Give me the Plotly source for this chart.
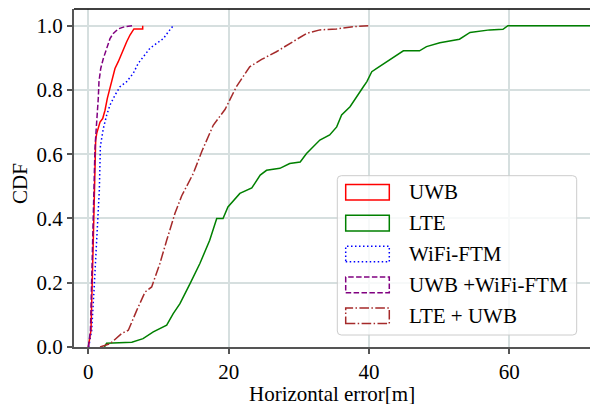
import plotly.graph_objects as go

# ---------------- data ----------------
uwb_x = [0, 0.38, 0.71, 0.95, 1.05, 1.2, 1.42, 1.67, 2.05, 2.38, 2.71, 3.09, 3.42, 3.8, 4.27, 4.84, 5.47, 5.94, 6.5, 7.75, 7.75]
uwb_y = [0, 0.052, 0.332, 0.6, 0.644, 0.665, 0.68, 0.70, 0.711, 0.737, 0.774, 0.81, 0.841, 0.867, 0.888, 0.919, 0.95, 0.971, 0.99, 0.99, 1.0]

lte_x = [2.3, 2.6, 6.2, 7.8, 9.26, 11.17, 12.1, 13.06, 14.5, 15.9, 17.3, 18.3, 19.2, 19.9, 21.6, 23.3, 24.5,
         25.4, 27.3, 28.7, 30.2, 31.1, 33.0, 34.4, 35.4, 36.1, 37.3, 38.2, 39.2, 39.7, 40.4, 41.1, 42.5,
         43.9, 44.9, 47.2, 48.2, 50.1, 51.0, 52.9, 54.4, 57.2, 59.1, 59.8, 80]
lte_y = [0, 0.012, 0.015, 0.026, 0.047, 0.068, 0.104, 0.135, 0.197, 0.26, 0.332, 0.4, 0.4, 0.436, 0.478, 0.495, 0.535,
         0.55, 0.556, 0.571, 0.576, 0.602, 0.644, 0.66, 0.685, 0.722, 0.748, 0.779, 0.81, 0.826, 0.857, 0.867, 0.888,
         0.909, 0.922, 0.922, 0.935, 0.947, 0.95, 0.958, 0.979, 0.987, 0.989, 1.0, 1.0]

wifi_x = [0.05, 0.48, 0.81, 1.2, 1.57, 1.72, 2.14, 2.62, 3.09, 3.8, 4.52, 5.47, 6.41, 7.12, 7.83, 8.79, 9.74, 10.7, 11.4, 12.1]
wifi_y = [0, 0.052, 0.176, 0.332, 0.488, 0.625, 0.68, 0.722, 0.753, 0.784, 0.81, 0.826, 0.852, 0.883, 0.903, 0.93, 0.945, 0.96, 0.981, 1.0]

uwbwifi_x = [0, 0.3, 0.62, 0.85, 0.95, 1.1, 1.28, 1.42, 1.52, 1.77, 2.14, 2.62, 3.09, 3.56, 4.27, 5.2, 6.4]
uwbwifi_y = [0, 0.05, 0.33, 0.56, 0.618, 0.67, 0.722, 0.774, 0.826, 0.867, 0.898, 0.93, 0.96, 0.976, 0.99, 0.997, 1.0]

lteuwb_x = [1.67, 3.09, 4.75, 5.7, 6.9, 8.08, 9.03, 10.2, 11.17, 12.35, 13.3, 14.96, 16.2, 17.8, 19.5, 21.1,
            23.0, 24.7, 26.8, 29.2, 31.1, 33.0, 35.4, 37.7, 39.9]
lteuwb_y = [0, 0.01, 0.042, 0.052, 0.114, 0.171, 0.187, 0.26, 0.332, 0.416, 0.47, 0.54, 0.61, 0.69, 0.74, 0.81,
            0.872, 0.895, 0.919, 0.95, 0.976, 0.987, 0.99, 0.997, 1.0]

series_names = ["UWB", "LTE", "WiFi-FTM", "UWB +WiFi-FTM", "LTE + UWB"]
series_colors = ["#ff0000", "#008000", "#0000ff", "#800080", "#a52a2a"]
series_dash = ["solid", "solid", "1.5px,2.5px", "5.5px,2.4px", "9.6px,2.4px,1.5px,2.4px"]
xs = [uwb_x, lte_x, wifi_x, uwbwifi_x, lteuwb_x]
ys = [uwb_y, lte_y, wifi_y, uwbwifi_y, lteuwb_y]

x_ticks = [0, 20, 40, 60]
y_ticks = [0.0, 0.2, 0.4, 0.6, 0.8, 1.0]
x_title = "Horizontal error[m]"
y_title = "CDF"

FONT = "'Liberation Serif', 'Times New Roman', Times, serif"
FS = 21

fig = go.Figure()
for i in [1, 4, 2, 0, 3]:
    fig.add_trace(go.Scatter(x=xs[i], y=ys[i], mode="lines", name=series_names[i],
                             line=dict(color=series_colors[i], width=1.5, dash=series_dash[i]),
                             showlegend=False, hoverinfo="skip"))

# ---- layout geometry ----
W, H = 590, 405
L, R, T, B = 74, 0, 9, 58
xr = [-2.04, 71.5]
yr = [0, 1.052]
pw, ph = W - L - R, H - T - B


def px2x(px):
    return xr[0] + (px - L) / pw * (xr[1] - xr[0])


def py2y(py):
    return yr[0] + (H - B - py) / ph * (yr[1] - yr[0])


shapes = []
annotations = []
# top spine
shapes.append(dict(type="line", xref="paper", yref="paper", x0=0, x1=1, y0=1, y1=1,
                   line=dict(color="black", width=1.5), layer="above"))

# legend box (rounded)
bx0, bx1, by0, by1, rad = 337.3, 576.7, 175.7, 335.0, 4
x0, x1 = px2x(bx0), px2x(bx1)
y0, y1 = py2y(by1), py2y(by0)
rx = rad / pw * (xr[1] - xr[0])
ry = rad / ph * (yr[1] - yr[0])
path = (f"M{x0+rx},{y0} L{x1-rx},{y0} Q{x1},{y0} {x1},{y0+ry} L{x1},{y1-ry} Q{x1},{y1} {x1-rx},{y1} "
        f"L{x0+rx},{y1} Q{x0},{y1} {x0},{y1-ry} L{x0},{y0+ry} Q{x0},{y0} {x0+rx},{y0} Z")
shapes.append(dict(type="path", xref="x", yref="y", path=path, fillcolor="rgba(255,255,255,0.8)",
                   line=dict(color="#cccccc", width=1), layer="above"))

row_c = [192.2, 223.1, 254.0, 284.9, 315.8]
for i, name in enumerate(series_names):
    c = row_c[i]
    shapes.append(dict(type="rect", xref="x", yref="y",
                       x0=px2x(345.7), x1=px2x(389.3), y0=py2y(c + 7.8), y1=py2y(c - 7.8),
                       line=dict(color=series_colors[i], width=1.5, dash=series_dash[i]),
                       fillcolor="rgba(0,0,0,0)", layer="above"))
    annotations.append(dict(x=px2x(407.0), y=py2y(c), xref="x", yref="y", text=name, showarrow=False,
                            xanchor="left", yanchor="middle", font=dict(family=FONT, size=FS, color="black")))

# axis titles
annotations.append(dict(x=0.5, y=-(393.5 - (H - B)) / ph, xref="paper", yref="paper", text=x_title,
                        showarrow=False, xanchor="center", yanchor="middle", height=20, borderpad=0,
                        font=dict(family=FONT, size=FS, color="black")))
annotations.append(dict(x=-(L - 20) / pw, y=(H - B - 184) / ph, xref="paper", yref="paper", text=y_title,
                        showarrow=False, xanchor="center", yanchor="middle", textangle=-90,
                        font=dict(family=FONT, size=FS, color="black")))

fig.update_layout(
    width=W, height=H,
    margin=dict(l=L, r=R, t=T, b=B, pad=0),
    paper_bgcolor="white", plot_bgcolor="white",
    font=dict(family=FONT, size=FS, color="black"),
    shapes=shapes, annotations=annotations,
    showlegend=False,
    xaxis=dict(range=xr, tickmode="array", tickvals=x_ticks, ticktext=[str(t) for t in x_ticks],
               showgrid=True, gridcolor="#d6dfdf", gridwidth=1.5, zeroline=False,
               showline=True, linecolor="#555555", linewidth=2,
               ticks="outside", ticklen=5, tickwidth=1.5, tickcolor="#555555",
               tickfont=dict(family=FONT, size=FS, color="black")),
    yaxis=dict(range=yr, tickmode="array", tickvals=y_ticks, ticktext=[f"{t:.1f}" for t in y_ticks],
               showgrid=True, gridcolor="#d6dfdf", gridwidth=1.5, zeroline=False,
               showline=True, linecolor="#555555", linewidth=2,
               ticks="outside", ticklen=5, tickwidth=1.5, tickcolor="#555555",
               tickfont=dict(family=FONT, size=FS, color="black")),
)

fig.write_html("out.html")
